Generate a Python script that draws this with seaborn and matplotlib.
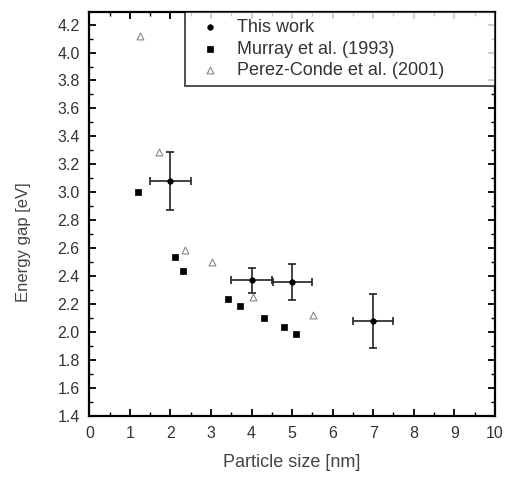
import numpy as np
import pandas as pd
import matplotlib
matplotlib.use("Agg")
import matplotlib.pyplot as plt
import seaborn as sns
from matplotlib.ticker import MultipleLocator, FormatStrFormatter

# This work (with error bars)
this_x = [2.0, 4.0, 5.0, 7.0]
this_y = [3.08, 2.37, 2.36, 2.08]
this_xerr = [0.5, 0.5, 0.48, 0.5]
this_yerr = [0.21, 0.09, 0.13, 0.19]

# Murray et al. (1993)
murray_x = [1.2, 2.1, 2.32, 3.41, 3.71, 4.3, 4.8, 5.1]
murray_y = [3.0, 2.54, 2.44, 2.24, 2.19, 2.1, 2.04, 1.99]

# Perez-Conde et al. (2001)
perez_x = [1.25, 1.71, 2.36, 3.03, 4.03, 5.52]
perez_y = [4.12, 3.29, 2.59, 2.5, 2.25, 2.12]

sns.set_style("ticks")
plt.rcParams["font.family"] = ["Liberation Sans", "DejaVu Sans"]

fig = plt.figure(figsize=(5.08, 4.83), dpi=100)
ax = fig.add_axes([0.176, 0.1387, 0.798, 0.8365])

ax.errorbar(this_x, this_y, xerr=this_xerr, yerr=this_yerr, fmt="none",
            ecolor="#222222", elinewidth=1.2, capsize=3, capthick=1.2, zorder=2)

sns.scatterplot(x=this_x, y=this_y, marker="o", s=16, color="black",
                edgecolor="black", linewidth=0.5, label="This work", ax=ax, zorder=3)
sns.scatterplot(x=murray_x, y=murray_y, marker="s", s=18, color="black",
                edgecolor="black", linewidth=0.5, label="Murray et al. (1993)", ax=ax, zorder=3)
sns.scatterplot(x=perez_x, y=perez_y, marker="^", s=24, color="white",
                edgecolor="#888888", linewidth=0.8, label="Perez-Conde et al. (2001)", ax=ax, zorder=3)

ax.set_xlim(0, 10)
ax.set_ylim(1.4, 4.29)
ax.xaxis.set_major_locator(MultipleLocator(1))
ax.xaxis.set_minor_locator(MultipleLocator(0.5))
ax.yaxis.set_major_locator(MultipleLocator(0.2))
ax.yaxis.set_minor_locator(MultipleLocator(0.1))
ax.yaxis.set_major_formatter(FormatStrFormatter("%.1f"))
ax.tick_params(which="both", direction="in", top=True, right=True,
               labelsize=11.5, color="black", labelcolor="#333333")
ax.tick_params(which="major", length=5, width=1.3, pad=7)
ax.tick_params(which="minor", length=3, width=1.0)
for sp in ax.spines.values():
    sp.set_linewidth(1.6)
    sp.set_color("black")

ax.set_xlabel("Particle size [nm]", fontsize=13, color="#444444")
ax.set_ylabel("Energy gap [eV]", fontsize=12, color="#444444")
ax.xaxis.set_label_coords(0.5, -0.094)
ax.yaxis.set_label_coords(-0.145, 0.43)

leg = ax.legend(loc="upper right", bbox_to_anchor=(0.2355, 0.0, 0.7645, 1.0),
                mode="expand", borderaxespad=0, fancybox=False,
                frameon=True, fontsize=13, handletextpad=0.5, handlelength=2.0,
                borderpad=0.4, labelspacing=0.25)
leg.get_frame().set_edgecolor("black")
leg.get_frame().set_linewidth(1.2)
for t in leg.get_texts():
    t.set_color("#333333")

fig.savefig("out.png", dpi=100)
